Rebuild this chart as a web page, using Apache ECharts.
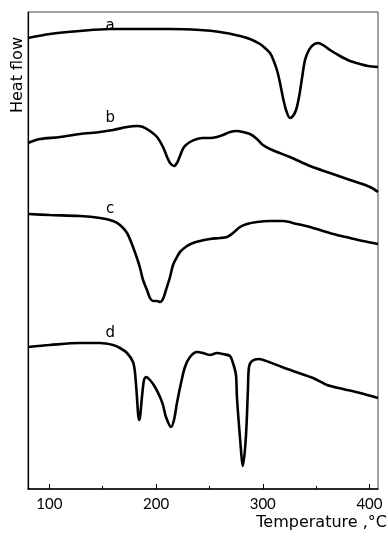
<!DOCTYPE html>
<html>
<head>
<meta charset="utf-8">
<script src="https://cdn.jsdelivr.net/npm/echarts@6/dist/echarts.min.js"></script>
<style>
  html, body { margin: 0; padding: 0; background: #fff; }
  #chart { width: 388px; height: 537px; }
</style>
</head>
<body>
<div id="chart"></div>
<script>
// DSC traces, [temperature in C, heat flow in arbitrary units]
var curveA = [[80,451],[100.6,455],[128.7,458],[156.8,460],[185,460],[213.1,460],[241.2,459],[259.9,457],
    [278.7,453],[288,450],[297.4,445],[302.1,441],[306.8,436],[309.6,430],[313.3,419],[316.2,406],[319,391],
    [321.8,379],[325.5,371],[328.3,373],[331.2,379],[334,392],[336.8,411],[339.6,429],[343.3,439],[347.1,444],
    [351.8,446],[356.4,444],[363,439],[372.4,433],[381.8,428],[391.1,425],[398.6,423],[408,422]];
var curveB = [[80,346],[84.7,348],[91.2,350],[110,352],[128.7,355],[147.5,357],[159.7,359],[172.8,362],
    [182.1,363],[187.8,362],[194.3,358],[200.9,352],[206.5,342],[210.3,332],[213.1,326],[216.8,323],[219.6,326],
    [222.4,333],[226.2,342],[231.8,347],[238.4,350],[244,351],[250.6,351],[257.1,352],[262.7,354],[269.3,357],
    [275.9,358],[281.5,357],[288,355],[294.6,350],[300.2,344],[306.8,340],[313.3,337],[325.5,332],[344.3,323],
    [363,316],[381.8,309],[400.5,302],[408,297]];
var curveC = [[80,275],[100.6,274],[128.7,273],[147.5,271],[159.7,268],[166.2,264],[172.8,256],[178.4,242],
    [182.1,231],[185,221],[187.8,209],[191.5,199],[194.3,191],[197.1,188],[200.9,188],[203.7,187],[206.5,190],
    [209.3,199],[213.1,212],[215.9,224],[219.6,232],[222.4,237],[229,243],[234.6,246],[241.2,248],[250.6,250],
    [259.9,251],[266.5,252],[272.1,256],[278.7,262],[285.2,265],[294.6,267],[306.8,268],[319,268],[332.1,265],
    [344.3,262],[356.4,258],[369.6,254],[381.8,251],[393.9,248],[408,245]];
var curveD = [[80,142],[100.6,144],[128.7,146],[147.5,146],[159.7,144],[166.2,141],[172.8,136],[178.4,127],
    [180.3,116],[182.1,92],[183.1,76],[184,69],[185,72],[186.8,92],[188.7,109],[190.6,112],[194.3,109],[199,102],
    [203.7,92],[206.5,84],[209.3,72],[214,62],[216.8,69],[219.6,86],[223.4,106],[227.1,122],[231.8,132],
    [238.4,137],[244,136],[250.6,134],[257.1,136],[262.7,135],[269.3,133],[272.1,126],[274.9,114],[275.8,92],
    [278.6,52],[281.4,23],[284.2,52],[286.1,99],[287.1,122],[289.9,128],[296.4,130],[305.8,127],[318,122],
    [331.1,117],[347.1,111],[360.2,104],[375.2,100],[391.1,96],[408,91]];

var curveNames = ['a', 'b', 'c', 'd'];
var curves = [curveA, curveB, curveC, curveD];
var labelAt = [[157, 463], [157, 371], [157, 280], [157, 156]];
var majorTicks = [100, 200, 300, 400];
var minorTicks = [150, 250, 350];

var tickFont = 'Lato, "DejaVu Sans", sans-serif';
var textFont = '"DejaVu Sans", sans-serif';
var chart = echarts.init(document.getElementById('chart'));

var seriesList = [];
curves.forEach(function(c, i) {
    seriesList.push({
        name: curveNames[i],
        type: 'line',
        data: c,
        smooth: 0.3,
        symbol: 'none',
        lineStyle: { color: '#000', width: 2.6 },
        markPoint: {
            symbol: 'circle',
            symbolSize: 0,
            data: [{ coord: labelAt[i], value: curveNames[i] }],
            label: {
                show: true, formatter: curveNames[i], color: '#000',
                fontSize: 15, fontFamily: textFont
            }
        }
    });
});

var option = {
    animation: false,
    backgroundColor: '#fff',
    grid: {
        left: 28, right: 10, top: 12, bottom: 48,
        show: true, borderColor: '#444', borderWidth: 1
    },
    xAxis: [{
        type: 'value', min: 80, max: 408,
        axisLine: { show: true, lineStyle: { color: '#000', width: 1.5 } },
        axisTick: { show: true, inside: true, length: 5, customValues: majorTicks, lineStyle: { color: '#000' } },
        axisLabel: { customValues: majorTicks, color: '#000', fontSize: 15, fontFamily: tickFont, margin: 8 },
        splitLine: { show: false }
    }, {
        type: 'value', min: 80, max: 408, position: 'bottom',
        axisLine: { show: false },
        axisTick: { show: true, inside: true, length: 3, customValues: minorTicks, lineStyle: { color: '#000' } },
        axisLabel: { show: false },
        splitLine: { show: false }
    }],
    yAxis: {
        type: 'value', min: 0, max: 477,
        axisLine: { show: true, lineStyle: { color: '#000', width: 1.2 } },
        axisTick: { show: false },
        axisLabel: { show: false },
        splitLine: { show: false }
    },
    graphic: [{
        type: 'text', x: 26, y: 113, rotation: Math.PI / 2,
        style: {
            text: 'Heat flow', fontSize: 16, fontFamily: textFont, fill: '#000',
            align: 'left', verticalAlign: 'bottom'
        }
    }, {
        type: 'text', right: 1, top: 515,
        style: { text: 'Temperature ,°C', fontSize: 16, fontFamily: textFont, fill: '#000' }
    }],
    series: seriesList
};
chart.setOption(option);
</script>
</body>
</html>
